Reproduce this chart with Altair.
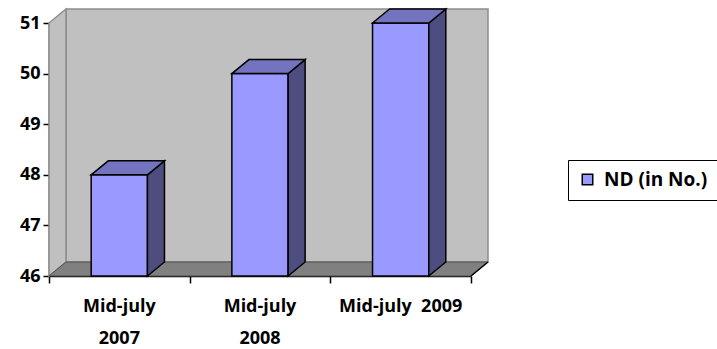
import altair as alt
import pandas as pd

# Data
categories = ["Mid-july 2007", "Mid-july 2008", "Mid-july 2009"]
axis_labels = ["Mid-july\n2007", "Mid-july\n2008", "Mid-july\u00a0\u00a02009"]
values = [48, 50, 51]
series_name = "ND (in No.)"

# Layout (pixels) and 3-D look
W, H = 422, 253
Y_MIN, Y_MAX = 46, 51
X_MAX = len(categories)
DEPTH_PX_X, DEPTH_PX_Y = 17, 14
dx = DEPTH_PX_X * X_MAX / W                 # depth offset in x data units
dy = DEPTH_PX_Y * (Y_MAX - Y_MIN) / H        # depth offset in y data units
half = 0.2                                    # half bar width in x data units

FONT = "Open Sans"
FRONT, SIDE, TOP = "#9999FF", "#4D4D80", "#7373BF"

xs = alt.Scale(domain=[0, X_MAX], nice=False, zero=False)
ys = alt.Scale(domain=[Y_MIN, Y_MAX], nice=False, zero=False)

centers = [i + 0.5 for i in range(len(categories))]

x_axis = alt.Axis(values=list(range(X_MAX + 1)), labels=False, grid=False, title=None,
                  domainColor="black", domainWidth=1.5, tickColor="black",
                  tickWidth=1.5, tickSize=7)
y_axis = alt.Axis(values=list(range(Y_MIN, Y_MAX + 1)), grid=False, format="d", title=None,
                  domainColor="black", domainWidth=1.5, tickColor="black",
                  tickWidth=1.5, tickSize=6, labelPadding=3,
                  labelFont=FONT, labelFontSize=18, labelFontWeight="bold",
                  labelColor="black")

# Walls and floor of the 3-D box (this layer also carries the axes)
back_wall = alt.Chart(pd.DataFrame({"x": [dx], "x2": [X_MAX + dx],
                                    "y": [Y_MIN + dy], "y2": [Y_MAX + dy]})).mark_rect(
    fill="#C0C0C0", stroke="#8C8C8C", strokeWidth=1.5).encode(
    x=alt.X("x:Q", scale=xs, axis=x_axis), x2="x2:Q",
    y=alt.Y("y:Q", scale=ys, axis=y_axis), y2="y2:Q")

left_wall = alt.Chart(pd.DataFrame({"x": [0, dx], "y": [Y_MIN, Y_MIN + dy],
                                    "y2": [Y_MAX, Y_MAX + dy]})).mark_area(
    fill="#C0C0C0", stroke="#8C8C8C", strokeWidth=1.5).encode(
    x=alt.X("x:Q", scale=xs, title=None), y=alt.Y("y:Q", scale=ys, title=None), y2="y2:Q")

floor = alt.Chart(pd.DataFrame({"y": [Y_MIN, Y_MIN + dy], "x": [0, dx],
                                "x2": [X_MAX, X_MAX + dx]})).mark_area(
    orient="horizontal", fill="#808080", stroke="#505050", strokeWidth=1).encode(
    y=alt.Y("y:Q", scale=ys, title=None), x=alt.X("x:Q", scale=xs, title=None), x2="x2:Q")

# Bars: front faces
front_df = pd.DataFrame({"category": categories, "value": values,
                         "x": [c - half for c in centers], "x2": [c + half for c in centers],
                         "base": [Y_MIN] * len(values), "series": [series_name] * len(values)})
front = alt.Chart(front_df).mark_rect(stroke="black", strokeWidth=1.5).encode(
    x=alt.X("x:Q", scale=xs, title=None), x2="x2:Q",
    y=alt.Y("base:Q", scale=ys, title=None), y2="value:Q",
    color=alt.Color("series:N", scale=alt.Scale(domain=[series_name], range=[FRONT]),
                    legend=alt.Legend(title=None, orient="none", legendX=519, legendY=137,
                                      symbolType="square", symbolSize=110,
                                      symbolStrokeColor="black", symbolStrokeWidth=1.5,
                                      labelFont=FONT, labelFontSize=19, labelFontWeight="bold",
                                      labelColor="black", labelOffset=7, strokeColor="black",
                                      padding=10, fillColor="white")))

# Bars: side and top faces
side_rows, top_rows = [], []
for cat, c, v in zip(categories, centers, values):
    side_rows += [{"category": cat, "x": c + half, "y": Y_MIN, "y2": v},
                  {"category": cat, "x": c + half + dx, "y": Y_MIN + dy, "y2": v + dy}]
    top_rows += [{"category": cat, "y": v, "x": c - half, "x2": c + half},
                 {"category": cat, "y": v + dy, "x": c - half + dx, "x2": c + half + dx}]

side = alt.Chart(pd.DataFrame(side_rows)).mark_area(
    fill=SIDE, stroke="black", strokeWidth=1.5).encode(
    x=alt.X("x:Q", scale=xs, title=None), y=alt.Y("y:Q", scale=ys, title=None),
    y2="y2:Q", detail="category:N")

top = alt.Chart(pd.DataFrame(top_rows)).mark_area(
    orient="horizontal", fill=TOP, stroke="black", strokeWidth=1.5).encode(
    y=alt.Y("y:Q", scale=ys, title=None), x=alt.X("x:Q", scale=xs, title=None),
    x2="x2:Q", detail="category:N")

# Floor right edge
edge = alt.Chart(pd.DataFrame({"x": [X_MAX, X_MAX + dx], "y": [Y_MIN, Y_MIN + dy]})).mark_line(
    color="black", strokeWidth=1.5).encode(
    x=alt.X("x:Q", scale=xs, title=None), y=alt.Y("y:Q", scale=ys, title=None))

# Category labels
labels = alt.Chart(pd.DataFrame({"x": centers, "label": axis_labels})).mark_text(
    font=FONT, fontSize=18, fontWeight="bold", color="black", lineBreak="\n",
    lineHeight=32, baseline="alphabetic", align="center").encode(
    x=alt.X("x:Q", scale=xs, title=None), y=alt.value(H + 36), text="label:N")

chart = alt.layer(back_wall, left_wall, floor, front, side, top, edge, labels).properties(
    width=W, height=H,
    autosize=alt.AutoSizeParams(type="none"),
    padding={"left": 49, "top": 23, "right": 717 - 49 - W, "bottom": 349 - 23 - H},
    background="white",
).configure_view(stroke=None)

chart.save("out.html", embed_options={"renderer": "svg", "actions": False})
